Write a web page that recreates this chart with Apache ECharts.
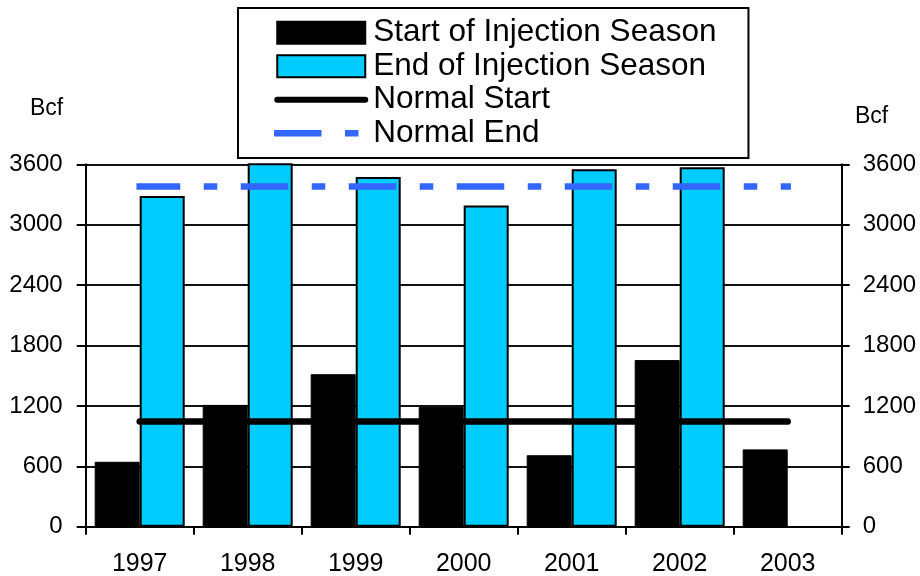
<!DOCTYPE html>
<html>
<head>
<meta charset="utf-8">
<script src="https://cdn.jsdelivr.net/npm/echarts@6/dist/echarts.min.js"></script>
<style>
  html, body { margin: 0; padding: 0; background: #fff; }
  #chart { width: 920px; height: 576px; }
</style>
</head>
<body>
<div id="chart"></div>
<script>
// Working gas in storage (Bcf), start and end of each injection season
const years = ['1997', '1998', '1999', '2000', '2001', '2002', '2003'];
const startOfSeason = [645, 1210, 1515, 1190, 710, 1655, 768];
const endOfSeason = [3285, 3620, 3475, 3190, 3550, 3570, null];
const normalStart = [1045, 1045, 1045, 1045, 1045, 1045, 1045];
const normalEnd = [3380, 3380, 3380, 3380, 3380, 3380, 3380];
const yTicks = { min: 0, max: 3600, interval: 600 };
const unitLabel = 'Bcf';

const FONT = 'Liberation Sans, Arial, sans-serif';
const CYAN = '#00CCFF';
const BLUE = '#3366FF';

const chart = echarts.init(document.getElementById('chart'), null, { renderer: 'canvas' });

const axisLineStyle = { color: '#000', width: 2 };
const plainNumber = (v) => String(v);
const hiddenSymbol = { color: 'rgba(0,0,0,0)', borderWidth: 0, opacity: 0 };

chart.setOption({
  animation: false,
  backgroundColor: '#fff',
  grid: { left: 85.7, right: 78.3, top: 164.3, bottom: 49.3, containLabel: false, outerBoundsMode: 'none' },
  legend: {
    orient: 'vertical',
    left: 238,
    top: 8,
    padding: [8, 32, 8, 36],
    itemGap: 0,
    itemWidth: 88,
    itemHeight: 22,
    selectedMode: false,
    backgroundColor: '#fff',
    borderColor: '#000',
    borderWidth: 2,
    borderRadius: 0,
    textStyle: { fontFamily: FONT, fontSize: 31.5, color: '#000', lineHeight: 33.5, padding: [0, 0, 0, 3] },
    data: [
      { name: 'Start of Injection Season', icon: 'rect', itemStyle: { color: '#000', borderColor: '#000', borderWidth: 2 } },
      { name: 'End of Injection Season', icon: 'rect', itemStyle: { color: CYAN, borderColor: '#000', borderWidth: 2 } },
      { name: 'Normal Start', itemStyle: hiddenSymbol, lineStyle: { color: '#000', width: 6, type: 'solid', cap: 'round' } },
      { name: 'Normal End', itemStyle: hiddenSymbol, lineStyle: { color: BLUE, width: 6.5, type: [41, 30, 7, 30], cap: 'square', dashOffset: 0 } }
    ]
  },
  graphic: [
    { type: 'text', left: 30, top: 97, style: { text: unitLabel, fontFamily: FONT, fontSize: 23, fill: '#000' } },
    { type: 'text', left: 855, top: 105, style: { text: unitLabel, fontFamily: FONT, fontSize: 23, fill: '#000' } }
  ],
  xAxis: {
    type: 'category',
    data: years,
    boundaryGap: true,
    axisLine: { show: true, lineStyle: axisLineStyle },
    axisTick: { show: true, length: 8, lineStyle: { color: '#000', width: 2 } },
    axisLabel: { color: '#000', fontFamily: FONT, fontSize: 25, margin: 25 },
    splitLine: { show: false }
  },
  yAxis: [
    {
      type: 'value',
      position: 'left',
      min: yTicks.min, max: yTicks.max, interval: yTicks.interval,
      axisLine: { show: true, lineStyle: axisLineStyle },
      axisTick: { show: true, length: 9, lineStyle: { color: '#000', width: 2 } },
      axisLabel: { color: '#000', fontFamily: FONT, fontSize: 24, margin: 23, formatter: plainNumber },
      splitLine: { show: true, lineStyle: { color: '#111', width: 2 } }
    },
    {
      type: 'value',
      position: 'right',
      min: yTicks.min, max: yTicks.max, interval: yTicks.interval,
      axisLine: { show: true, lineStyle: axisLineStyle },
      axisTick: { show: true, length: 8, lineStyle: { color: '#000', width: 2 } },
      axisLabel: { color: '#000', fontFamily: FONT, fontSize: 24, margin: 21, formatter: plainNumber },
      splitLine: { show: false }
    }
  ],
  series: [
    {
      name: 'Start of Injection Season',
      type: 'bar',
      data: startOfSeason,
      barWidth: 45,
      barGap: '0%',
      clip: true,
      itemStyle: { color: '#000', borderColor: '#000', borderWidth: 1 },
      z: 2
    },
    {
      name: 'End of Injection Season',
      type: 'bar',
      data: endOfSeason,
      barWidth: 45,
      barGap: '0%',
      clip: true,
      itemStyle: { color: CYAN, borderColor: '#000', borderWidth: 2 },
      z: 2
    },
    {
      name: 'Normal Start',
      type: 'line',
      data: normalStart,
      symbol: 'none',
      itemStyle: { color: '#000' },
      lineStyle: { color: '#000', width: 6.5, cap: 'round' },
      z: 4
    },
    {
      name: 'Normal End',
      type: 'line',
      data: normalEnd,
      symbol: 'none',
      itemStyle: { color: BLUE },
      lineStyle: { color: BLUE, width: 6.5, type: [41, 30, 7, 30], cap: 'square', dashOffset: 3.7 },
      z: 4
    }
  ]
});
</script>
</body>
</html>
